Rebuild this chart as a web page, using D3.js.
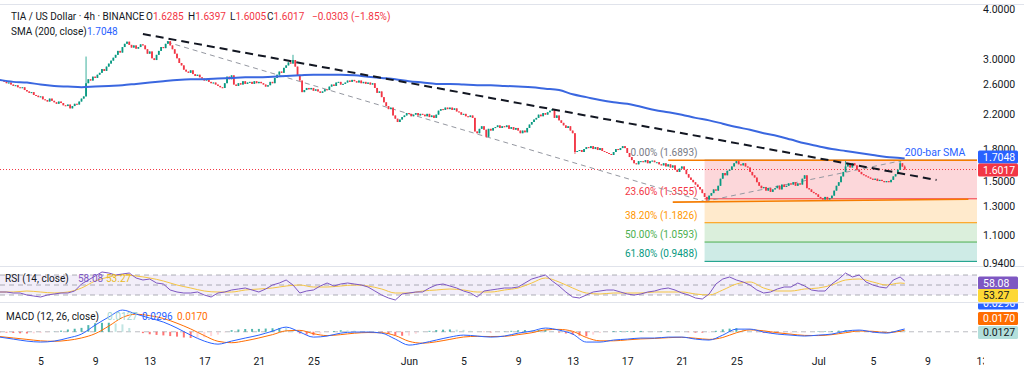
<!DOCTYPE html>
<html>
<head>
<meta charset="utf-8">
<script src="https://d3js.org/d3.v7.min.js"></script>
<style>
  body { margin: 0; background: #fff; }
  svg { display: block; font-family: Roboto, "Noto Sans", sans-serif; }
</style>
</head>
<body>
<svg id="chart" width="1024" height="374"></svg>
<script>
// ---- data ----
// 4h closes, TIA/USD, ending on the Jul 7 08:00 bar
var closes = [
  2.64, 2.62, 2.63, 2.60, 2.58, 2.59, 2.56, 2.55, 2.56, 2.52,
  2.50, 2.48, 2.49, 2.45, 2.44, 2.42, 2.43, 2.39,
  2.38, 2.36, 2.40, 2.37, 2.35, 2.33, 2.36, 2.34, 2.31, 2.30, 2.32, 2.27,
  2.30, 2.33, 2.32, 2.36, 2.40, 2.43,
  2.62, 2.68, 2.66, 2.72, 2.70, 2.75, 2.78,
  2.84, 2.81, 2.88, 2.93, 2.98, 3.03, 3.08,
  3.15, 3.12, 3.22, 3.28, 3.32, 3.26, 3.21, 3.25, 3.19,
  3.22, 3.27, 3.25, 3.18, 3.10, 3.14, 3.02, 2.99,
  3.08, 3.15, 3.22, 3.20, 3.28, 3.33, 3.25, 3.18, 3.10,
  3.02, 2.94, 2.90, 2.83, 2.80, 2.78,
  2.82, 2.76, 2.73, 2.75, 2.71, 2.69, 2.66, 2.68, 2.64, 2.62, 2.63, 2.60,
  2.58, 2.56, 2.55, 2.62, 2.72, 2.68, 2.74, 2.60, 2.58,
  2.62, 2.60, 2.65, 2.61, 2.63, 2.64, 2.61, 2.65, 2.62, 2.64, 2.62,
  2.60, 2.57, 2.59, 2.64, 2.62, 2.70,
  2.75, 2.80, 2.78, 2.86, 2.90, 2.95, 2.93, 2.99,
  2.88, 2.74, 2.66, 2.49, 2.52, 2.55, 2.53,
  2.55, 2.51, 2.53, 2.50, 2.48, 2.50,
  2.53, 2.52, 2.57, 2.60, 2.58, 2.63, 2.64, 2.60, 2.61,
  2.63, 2.66, 2.64, 2.67, 2.65, 2.63, 2.66, 2.62,
  2.64, 2.61, 2.63, 2.60, 2.62,
  2.55, 2.48, 2.50, 2.42, 2.35,
  2.30, 2.26, 2.28, 2.18, 2.14, 2.10, 2.13, 2.16,
  2.18, 2.21, 2.20, 2.17, 2.19, 2.21, 2.18, 2.20, 2.19,
  2.17, 2.20, 2.16, 2.18, 2.15, 2.19, 2.24, 2.26, 2.25,
  2.28, 2.26, 2.28, 2.25, 2.27, 2.23, 2.22,
  2.19, 2.20, 2.17, 2.16, 2.18, 2.15,
  1.99, 1.97, 2.02, 2.05, 2.01, 1.93, 2.02,
  2.00, 2.03, 2.04, 2.06, 2.03, 2.05, 2.04,
  2.06, 2.02, 2.04, 2.01, 2.03, 2.00, 1.97, 2.00, 1.98,
  2.03, 2.07, 2.10, 2.13, 2.15, 2.19,
  2.17, 2.21, 2.19, 2.22, 2.24, 2.26,
  2.15, 2.18, 2.12, 2.09, 2.06, 2.03, 2.05, 2.00, 1.97,
  1.77, 1.78, 1.79, 1.77, 1.80, 1.82, 1.81, 1.83, 1.80, 1.82,
  1.79, 1.81, 1.78, 1.77, 1.76, 1.75, 1.74,
  1.77, 1.80, 1.79, 1.81, 1.83, 1.81,
  1.76, 1.72, 1.69, 1.66, 1.65, 1.68,
  1.68, 1.67, 1.69, 1.66, 1.68, 1.685, 1.67,
  1.67, 1.65, 1.64, 1.66, 1.63, 1.65, 1.62, 1.64,
  1.60, 1.58, 1.61, 1.63, 1.60,
  1.56, 1.53, 1.51, 1.49, 1.47, 1.45, 1.43,
  1.40, 1.37, 1.35, 1.38, 1.40, 1.43, 1.42, 1.46,
  1.52, 1.57, 1.55, 1.59, 1.60, 1.63, 1.66,
  1.68, 1.65, 1.64, 1.66, 1.63, 1.62,
  1.58, 1.55, 1.53, 1.49, 1.46, 1.44,
  1.45, 1.42, 1.44, 1.41, 1.43, 1.44, 1.46, 1.43, 1.47, 1.45,
  1.46, 1.48, 1.47, 1.49, 1.46, 1.48, 1.47,
  1.52, 1.55, 1.44, 1.43, 1.41, 1.40, 1.39,
  1.37, 1.36, 1.35, 1.37, 1.35, 1.36, 1.38,
  1.42, 1.46, 1.49, 1.54, 1.58, 1.63, 1.66,
  1.62, 1.66, 1.64, 1.60, 1.58,
  1.56, 1.55, 1.54, 1.53, 1.52, 1.51, 1.52, 1.50, 1.51,
  1.50, 1.49, 1.50, 1.49, 1.51, 1.54, 1.56,
  1.60, 1.66, 1.6285, 1.6017
];
var firstOpen = 2.66;
var lastBarTime = "2025-07-07T08:00Z";
// notable wicks: [bar time, high, low]
var wicks = [
  ["2025-05-08T08:00Z", 3.05, null],
  ["2025-05-23T12:00Z", 3.08, null],
  ["2025-06-06T16:00Z", null, 1.92],
  ["2025-06-13T04:00Z", null, 1.75],
  ["2025-06-22T20:00Z", null, 1.33],
  ["2025-06-25T00:00Z", 1.69, null],
  ["2025-07-03T00:00Z", 1.69, null],
  ["2025-07-07T00:00Z", 1.69, null],
  ["2025-07-07T08:00Z", 1.6397, 1.6005]
];

// 200-bar SMA, one value per day from May 2 00:00, then the last bar
var sma200 = [
  2.668, 2.64, 2.63, 2.60, 2.58, 2.57, 2.56, 2.57, 2.58, 2.59,
  2.61, 2.63, 2.65, 2.67, 2.68, 2.68, 2.69, 2.70, 2.71, 2.71,
  2.72, 2.73, 2.74, 2.75, 2.75, 2.75, 2.74, 2.72, 2.70, 2.68,
  2.65, 2.63, 2.61, 2.61, 2.60, 2.59, 2.59, 2.58, 2.57, 2.56,
  2.54, 2.52, 2.46, 2.42, 2.38, 2.35, 2.33, 2.29, 2.25, 2.22,
  2.19, 2.15, 2.12, 2.08, 2.04, 2.01, 1.97, 1.94, 1.90, 1.86,
  1.83, 1.80, 1.78, 1.76, 1.74, 1.72, 1.71
];
var smaLast = 1.7048;
var lastPrice = 1.6017;

// RSI(14) every 12h from May 2 00:00; its MA once a day
var rsi12h = [
  36, 36, 34, 34, 30, 28, 26, 30, 32, 34, 34, 38, 52, 60, 68, 76, 74, 70, 72, 74,
  64, 60, 62, 54, 52, 40, 36, 34, 34, 36, 30, 26, 34, 36, 40, 42, 44, 40, 36, 42,
  50, 54, 60, 50, 34, 38, 40, 48, 54, 48, 52, 54, 52, 50, 46, 38, 30, 24, 20, 32,
  34, 36, 36, 44, 50, 52, 48, 44, 38, 34, 26, 38, 40, 42, 44, 44, 46, 54, 62, 66,
  70, 58, 48, 36, 26, 24, 30, 36, 38, 40, 40, 36, 32, 30, 32, 36, 38, 42, 44, 40,
  34, 30, 24, 22, 32, 52, 62, 66, 60, 56, 50, 40, 34, 36, 42, 46, 46, 54, 48, 40,
  38, 38, 52, 62, 74, 66, 70, 56, 50, 46, 44, 60, 66
];
var rsiLast = 58.08;
var rsiMa = [
  36, 36, 38, 36, 34, 36, 44, 58, 66, 70, 68, 64, 58, 50, 44, 38, 36, 36, 40, 42,
  44, 48, 50, 46, 46, 48, 50, 48, 42, 34, 34, 38, 40, 42, 40, 36, 36, 40, 44, 54,
  64, 56, 44, 34, 32, 34, 34, 34, 36, 36, 36, 32, 30, 40, 52, 56, 44, 38, 38, 42,
  44, 50, 60, 62, 56, 50, 54
];
var rsiMaLast = 53.27;

// MACD(12,26) and signal once a day, histogram every 12h
var macdLine = [
  -0.056, -0.077, -0.098, -0.108, -0.098, -0.066, -0.024, 0.070, 0.155, 0.228,
  0.186, 0.144, 0.102, 0.039, -0.035, -0.098, -0.130, -0.098, -0.066, -0.035,
  0.007, 0.049, -0.003, -0.056, -0.045, -0.014, -0.003, -0.003, -0.014, -0.077,
  -0.140, -0.119, -0.087, -0.056, -0.035, -0.045, -0.056, -0.045, -0.014, 0.007,
  0.039, 0.018, -0.024, -0.108, -0.108, -0.087, -0.077, -0.066, -0.066, -0.056,
  -0.056, -0.077, -0.087, -0.035, 0.028, 0.028, -0.003, -0.024, -0.035, -0.045,
  -0.035, -0.024, 0.007, 0.018, -0.003, -0.014, 0.018
];
var macdLast = 0.0296;
var signalLine = [
  -0.050, -0.065, -0.080, -0.095, -0.100, -0.090, -0.065, -0.020, 0.060, 0.150,
  0.185, 0.170, 0.140, 0.090, 0.030, -0.040, -0.100, -0.115, -0.095, -0.065,
  -0.030, 0.010, 0.015, -0.020, -0.040, -0.030, -0.015, -0.008, -0.010, -0.040,
  -0.100, -0.120, -0.105, -0.080, -0.055, -0.048, -0.050, -0.048, -0.030, -0.010,
  0.020, 0.025, 0.005, -0.060, -0.095, -0.095, -0.085, -0.075, -0.070, -0.062,
  -0.058, -0.068, -0.080, -0.060, -0.010, 0.020, 0.010, -0.010, -0.025, -0.038,
  -0.040, -0.030, -0.010, 0.008, 0.005, -0.008, 0.005
];
var signalLast = 0.0170;
var hist12h = [
  -0.006, -0.009, -0.012, -0.016, -0.018, -0.016, -0.013, -0.006, 0.002, 0.012,
  0.024, 0.032, 0.041, 0.070, 0.090, 0.094, 0.095, 0.088, 0.078, 0.040,
  0.000, -0.014, -0.026, -0.033, -0.038, -0.045, -0.051, -0.060, -0.065, -0.062,
  -0.058, -0.045, -0.030, -0.006, 0.017, 0.024, 0.029, 0.030, 0.030, 0.034,
  0.037, 0.040, 0.039, 0.012, -0.018, -0.030, -0.036, -0.020, -0.005, 0.008,
  0.016, 0.014, 0.012, 0.008, 0.005, 0.001, -0.004, -0.022, -0.037, -0.042,
  -0.040, -0.020, 0.001, 0.010, 0.018, 0.022, 0.024, 0.022, 0.020, 0.010,
  0.003, -0.003, -0.006, -0.002, 0.003, 0.010, 0.016, 0.018, 0.017, 0.019,
  0.019, 0.006, -0.007, -0.018, -0.029, -0.040, -0.048, -0.030, -0.013, -0.002,
  0.008, 0.008, 0.008, 0.009, 0.009, 0.006, 0.004, 0.005, 0.006, 0.004,
  0.002, -0.004, -0.009, -0.009, -0.007, 0.010, 0.025, 0.033, 0.038, 0.024,
  0.008, -0.003, -0.013, -0.014, -0.014, -0.012, -0.010, -0.008, -0.007, 0.000,
  0.005, 0.006, 0.006, 0.012, 0.017, 0.014, 0.010, 0.001, -0.008, -0.007,
  -0.006, 0.004, 0.013
];
var histLast = 0.0127;

// drawings
var fibStart = "2025-06-22T16:00Z";
var fibLevels = [0, 0.236, 0.382, 0.5, 0.618];
var fibPrices = [1.6893, 1.3555, 1.1826, 1.0593, 0.9488];
var fibColors = ["#787b86", "#f23645", "#ff9800", "#4caf50", "#089981"];
var trendMain = [["2025-05-12T12:00Z", 3.469], ["2025-07-09T16:00Z", 1.509]];
var channelDown = [["2025-05-14T06:00Z", 3.314], ["2025-06-22T16:00Z", 1.335]];
var channelUp = [["2025-06-22T16:00Z", 1.335], ["2025-07-07T08:00Z", 1.691]];
var resistance = [["2025-06-20T00:00Z", 1.6893], ["2025-07-14T00:00Z", 1.6893]];
var support = [["2025-06-20T08:00Z", 1.330], ["2025-07-12T00:00Z", 1.352]];

var priceTicks = [4.0, 3.0, 2.6, 2.2, 1.8, 1.5, 1.3, 1.1, 0.94];
var dateTicks = ["2025-05-05", "2025-05-09", "2025-05-13", "2025-05-17", "2025-05-21", "2025-05-25",
                 "2025-06-01", "2025-06-05", "2025-06-09", "2025-06-13", "2025-06-17", "2025-06-21",
                 "2025-06-25", "2025-07-01", "2025-07-05", "2025-07-09", "2025-07-13"];

// ---- setup ----
var svg = d3.select("#chart");
var plotRight = 977;
var H4 = 4 * 3600 * 1000, H12 = 12 * 3600 * 1000, D1 = 24 * 3600 * 1000;
var indStart = Date.UTC(2025, 4, 2);
var lastT = new Date(lastBarTime);

var x = d3.scaleUtc()
  .domain([new Date(Date.UTC(2025, 4, 1)), new Date(Date.UTC(2025, 6, 13))])
  .range([-14, 982]);
var y = d3.scaleLog().domain([0.94, 4]).range([263, 9]);
var yRsi = d3.scaleLinear().domain([30, 70]).range([295, 275]);
var yMacd = d3.scaleLinear().domain([-0.16, 0.25]).range([347, 308]);

var defs = svg.append("defs");
function clip(id, x0, y0, w, h) {
  defs.append("clipPath").attr("id", id).append("rect")
    .attr("x", x0).attr("y", y0).attr("width", w).attr("height", h);
}
clip("cMain", 0, 5, plotRight, 261);
clip("cRsi", 0, 267, plotRight, 35);
clip("cMacd", 0, 303.5, plotRight, 46);
clip("cAxisR", 0, 303.5, 1024, 46);
clip("cX", 0, 350, 984, 24);

function pts(arr, step, lastVal) {
  var out = arr.map(function(v, k) { return { t: new Date(indStart + k * step), v: v }; });
  if (lastVal !== undefined) out.push({ t: lastT, v: lastVal });
  return out;
}
function seg(p) { return p.map(function(d) { return { t: new Date(d[0]), v: d[1] }; }); }

// frame / pane separators
svg.append("line").attr("x1", 0).attr("x2", 1024).attr("y1", 4.5).attr("y2", 4.5).attr("stroke", "#e0e3eb");
[266.5, 302.5].forEach(function(v) {
  svg.append("line").attr("x1", 0).attr("x2", 1024).attr("y1", v).attr("y2", v).attr("stroke", "#e0e3eb");
});

// ---- main pane ----
var main = svg.append("g").attr("clip-path", "url(#cMain)");

// fib zones
var fx0 = x(new Date(fibStart));
for (var k = 0; k < fibPrices.length - 1; k++) {
  main.append("rect")
    .attr("x", fx0).attr("width", 1100 - fx0)
    .attr("y", y(fibPrices[k])).attr("height", y(fibPrices[k + 1]) - y(fibPrices[k]))
    .attr("fill", fibColors[k + 1]).attr("fill-opacity", 0.2);
}
fibPrices.forEach(function(p, k) {
  main.append("line").attr("x1", fx0).attr("x2", 1100)
    .attr("y1", y(p)).attr("y2", y(p)).attr("stroke", fibColors[k]).attr("stroke-width", 1);
  main.append("text").attr("x", fx0 - 7).attr("y", y(p) - 4)
    .attr("text-anchor", "end").attr("font-size", 10).attr("fill", fibColors[k])
    .text((fibLevels[k] * 100).toFixed(2) + "% (" + p.toFixed(4) + ")");
});

// current price dotted line
main.append("line").attr("x1", 0).attr("x2", plotRight)
  .attr("y1", y(lastPrice)).attr("y2", y(lastPrice))
  .attr("stroke", "#f23645").attr("stroke-width", 1).attr("stroke-dasharray", "1,2");

var lineXY = d3.line().x(function(d) { return x(d.t); }).y(function(d) { return y(d.v); });

// gray channel lines
[channelDown, channelUp].forEach(function(s) {
  main.append("path").datum(seg(s)).attr("d", lineXY)
    .attr("fill", "none").attr("stroke", "#9598a1").attr("stroke-width", 1).attr("stroke-dasharray", "5,4");
});

// candles
var bars = closes.map(function(c, i) {
  var o = i === 0 ? firstOpen : closes[i - 1];
  return { t: new Date(lastT.getTime() - (closes.length - 1 - i) * H4), o: o, c: c,
           h: Math.max(o, c), l: Math.min(o, c) };
});
wicks.forEach(function(w) {
  var t = new Date(w[0]).getTime();
  bars.forEach(function(b) {
    if (b.t.getTime() === t) {
      if (w[1] !== null) b.h = w[1];
      if (w[2] !== null) b.l = w[2];
    }
  });
});
var cg = main.append("g");
cg.selectAll("line").data(bars).enter().append("line")
  .attr("x1", function(d) { return x(d.t); }).attr("x2", function(d) { return x(d.t); })
  .attr("y1", function(d) { return y(d.h); }).attr("y2", function(d) { return y(d.l); })
  .attr("stroke", function(d) { return d.c >= d.o ? "#089981" : "#f23645"; }).attr("stroke-width", 0.8);
cg.selectAll("rect").data(bars).enter().append("rect")
  .attr("x", function(d) { return x(d.t) - 0.9; }).attr("width", 1.8)
  .attr("y", function(d) { return y(Math.max(d.o, d.c)); })
  .attr("height", function(d) { return Math.max(1, y(Math.min(d.o, d.c)) - y(Math.max(d.o, d.c))); })
  .attr("fill", function(d) { return d.c >= d.o ? "#089981" : "#f23645"; });

// orange horizontal levels
[resistance, support].forEach(function(s) {
  main.append("path").datum(seg(s)).attr("d", lineXY)
    .attr("fill", "none").attr("stroke", "#f57c00").attr("stroke-width", 1.6);
});

// SMA 200
main.append("path").datum(pts(sma200, D1, smaLast))
  .attr("d", lineXY.curve(d3.curveMonotoneX))
  .attr("fill", "none").attr("stroke", "#3a67e0").attr("stroke-width", 2);
lineXY.curve(d3.curveLinear);

// main black trendline
main.append("path").datum(seg(trendMain)).attr("d", lineXY)
  .attr("fill", "none").attr("stroke", "#131722").attr("stroke-width", 2).attr("stroke-dasharray", "8,5");

main.append("text").attr("x", x(lastT)).attr("y", y(smaLast) - 3)
  .attr("font-size", 10.5).attr("fill", "#2962ff").text("200-bar SMA");

// ---- RSI pane ----
var rp = svg.append("g").attr("clip-path", "url(#cRsi)");
rp.append("rect").attr("x", 0).attr("width", plotRight)
  .attr("y", yRsi(70)).attr("height", yRsi(30) - yRsi(70)).attr("fill", "#7e57c2").attr("fill-opacity", 0.1);
[70, 50, 30].forEach(function(v) {
  rp.append("line").attr("x1", 0).attr("x2", plotRight).attr("y1", yRsi(v)).attr("y2", yRsi(v))
    .attr("stroke", "#787b86").attr("stroke-opacity", 0.6).attr("stroke-dasharray", "5,4");
});
var rsiPath = d3.line().x(function(d) { return x(d.t); }).y(function(d) { return yRsi(d.v); });
rp.append("path").datum(pts(rsiMa, D1, rsiMaLast)).attr("d", rsiPath.curve(d3.curveMonotoneX))
  .attr("fill", "none").attr("stroke", "#f5c542").attr("stroke-width", 1);
rp.append("path").datum(pts(rsi12h, H12, rsiLast)).attr("d", rsiPath.curve(d3.curveLinear))
  .attr("fill", "none").attr("stroke", "#7e57c2").attr("stroke-width", 1);

// ---- MACD pane ----
var mp = svg.append("g").attr("clip-path", "url(#cMacd)");
mp.append("line").attr("x1", 0).attr("x2", plotRight).attr("y1", yMacd(0)).attr("y2", yMacd(0))
  .attr("stroke", "#787b86").attr("stroke-opacity", 0.5).attr("stroke-dasharray", "5,4");
var hp = pts(hist12h, H12, histLast);
mp.selectAll("rect.h").data(hp).enter().append("rect").attr("class", "h")
  .attr("x", function(d) { return x(d.t) - 1; }).attr("width", 2)
  .attr("y", function(d) { return Math.min(yMacd(d.v), yMacd(0)); })
  .attr("height", function(d) { return Math.abs(yMacd(d.v) - yMacd(0)); })
  .attr("fill", function(d, i) {
    var prev = i > 0 ? hp[i - 1].v : d.v;
    if (d.v >= 0) return d.v >= prev ? "#26a69a" : "#b2dfdb";
    return d.v <= prev ? "#ff5252" : "#ffcdd2";
  })
  .attr("fill-opacity", 0.8);
var macdPath = d3.line().x(function(d) { return x(d.t); }).y(function(d) { return yMacd(d.v); })
  .curve(d3.curveMonotoneX);
mp.append("path").datum(pts(signalLine, D1, signalLast)).attr("d", macdPath)
  .attr("fill", "none").attr("stroke", "#ff6d00").attr("stroke-width", 1);
mp.append("path").datum(pts(macdLine, D1, macdLast)).attr("d", macdPath)
  .attr("fill", "none").attr("stroke", "#2962ff").attr("stroke-width", 1);

// ---- axes ----
var yAxis = d3.axisRight(y).tickValues(priceTicks).tickFormat(d3.format(".4f")).tickSize(0).tickPadding(0);
var ya = svg.append("g").attr("transform", "translate(983,0)").call(yAxis);
ya.select(".domain").remove();
ya.selectAll("text").attr("font-size", 10.5).attr("fill", "#131722").attr("font-family", "Roboto, sans-serif");

var xAxis = d3.axisBottom(x).tickValues(dateTicks.map(function(s) { return new Date(s + "T00:00Z"); }))
  .tickFormat(function(d) { return d.getUTCDate() === 1 ? d3.utcFormat("%b")(d) : d3.utcFormat("%-d")(d); })
  .tickSize(0).tickPadding(0);
var xa = svg.append("g").attr("clip-path", "url(#cX)").append("g")
  .attr("transform", "translate(0,358)").call(xAxis);
xa.select(".domain").remove();
xa.selectAll("text").attr("font-size", 10.5).attr("fill", "#131722").attr("font-family", "Roboto, sans-serif");

// value boxes on the price scale
function box(g, yc, val, bg, fg) {
  g.append("rect").attr("x", 978).attr("y", yc - 6.5).attr("width", 40).attr("height", 13)
    .attr("rx", 1.5).attr("fill", bg);
  g.append("text").attr("x", 983).attr("y", yc + 3.8).attr("font-size", 10.5).attr("fill", fg).text(val);
}
box(svg, 157, smaLast.toFixed(4), "#2962ff", "#fff");
box(svg, 170, lastPrice.toFixed(4), "#f23645", "#fff");
box(svg, 283, rsiLast.toFixed(2), "#7e57c2", "#fff");
box(svg, 295.5, rsiMaLast.toFixed(2), "#fdd835", "#131722");
var mb = svg.append("g").attr("clip-path", "url(#cAxisR)");
box(mb, 303, macdLast.toFixed(4), "#2962ff", "#fff");
box(mb, 318.5, signalLast.toFixed(4), "#ff6d00", "#fff");
box(mb, 332.5, histLast.toFixed(4), "#b2dfdb", "#131722");

// ---- legends ----
var dark = "#131722", red = "#f23645";
function label(xp, yp, txt, col) {
  svg.append("text").attr("x", xp).attr("y", yp).attr("font-size", 10).attr("fill", col).text(txt);
}
label(11, 20, "TIA / US Dollar \u00b7 4h \u00b7 BINANCE", dark);
[["O", "1.6285", 146], ["H", "1.6397", 188], ["L", "1.6005", 230], ["C", "1.6017", 267]].forEach(function(p) {
  var t = svg.append("text").attr("x", p[2]).attr("y", 20).attr("font-size", 10);
  t.append("tspan").attr("fill", dark).text(p[0]);
  t.append("tspan").attr("fill", red).text(p[1]);
});
label(312, 20, "\u22120.0303 (\u22121.85%)", red);
label(11, 35, "SMA (200, close)", dark);
label(87, 35, smaLast.toFixed(4), "#2962ff");
label(5, 282, "RSI (14, close)", dark);
label(78, 282, rsiLast.toFixed(2), "#7e57c2");
label(106, 282, rsiMaLast.toFixed(2), "#e8b923");
label(6, 320, "MACD (12, 26, close)", dark);
label(107, 320, histLast.toFixed(4), "#9fd6cf");
label(142, 320, macdLast.toFixed(4), "#2962ff");
label(177, 320, signalLast.toFixed(4), "#ff6d00");
</script>
</body>
</html>
